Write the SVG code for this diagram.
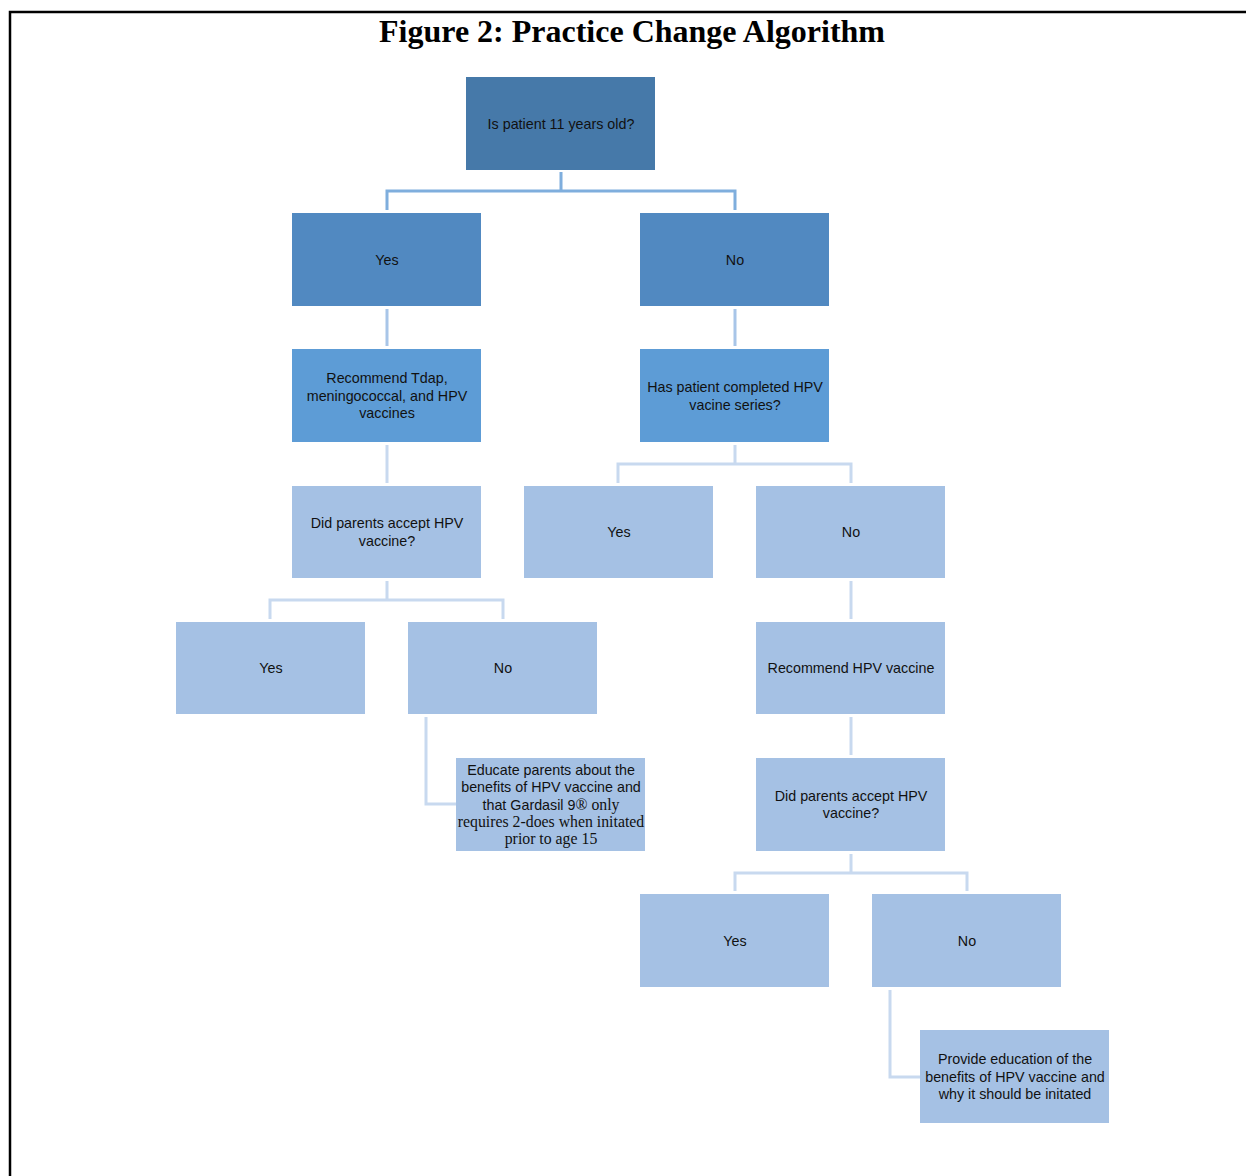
<svg xmlns="http://www.w3.org/2000/svg" width="1246" height="1176" viewBox="0 0 1246 1176">
<style>
.t{font-family:"Liberation Sans",Arial,sans-serif;font-size:14.3px;fill:#111;text-anchor:middle}
.s{font-family:"Liberation Serif","Times New Roman",serif;font-size:15.8px}
.n0{fill:#4679A9}
.n1{fill:#5189C1}
.n2{fill:#5D9CD6}
.n3{fill:#A5C1E4}
.c1{stroke:#7FAEDD;stroke-width:3;fill:none}
.c2{stroke:#A8C5E8;stroke-width:3;fill:none}
.c3{stroke:#C8D9EF;stroke-width:3;fill:none}
</style>
<rect width="1246" height="1176" fill="#fff"/>
<path d="M10,1176 V12 H1246" fill="none" stroke="#000" stroke-width="2.5"/>
<text x="632" y="42" font-family="'Liberation Serif','Times New Roman',serif" font-weight="bold" font-size="32" text-anchor="middle" fill="#000">Figure 2: Practice Change Algorithm</text>
<g id="connectors">
<path class="c1" d="M561,172 V191 M387,210 V191 H735 V210"/>
<path class="c2" d="M387,309 V346 M735,309 V346"/>
<path class="c3" d="M387,445 V483"/>
<path class="c3" d="M735,445 V464 M618,483 V464 H851 V483"/>
<path class="c3" d="M387,581 V600 M270,619 V600 H503 V619"/>
<path class="c3" d="M851,581 V619"/>
<path class="c3" d="M851,717 V755"/>
<path class="c3" d="M851,854 V873 M735,891 V873 H967 V891"/>
<path class="c3" d="M426,717 V804 H456"/>
<path class="c3" d="M890,990 V1077 H920"/>
</g>
<g id="n-root"><rect class="n0" x="466" y="77" width="189" height="93"/><text class="t" x="561" y="129">Is patient 11 years old?</text></g>
<g id="n-yes1"><rect class="n1" x="292" y="213" width="189" height="93"/><text class="t" x="387" y="265">Yes</text></g>
<g id="n-no1"><rect class="n1" x="640" y="213" width="189" height="93"/><text class="t" x="735" y="265">No</text></g>
<g id="n-recommend"><rect class="n2" x="292" y="349" width="189" height="93"/><text class="t" x="387" y="383">Recommend Tdap,</text><text class="t" x="387" y="401">meningococcal, and HPV</text><text class="t" x="387" y="418">vaccines</text></g>
<g id="n-completed"><rect class="n2" x="640" y="349" width="189" height="93"/><text class="t" x="735" y="392">Has patient completed HPV</text><text class="t" x="735" y="410">vacine series?</text></g>
<g id="n-accept1"><rect class="n3" x="292" y="486" width="189" height="92"/><text class="t" x="387" y="528">Did parents accept HPV</text><text class="t" x="387" y="546">vaccine?</text></g>
<g id="n-yes2"><rect class="n3" x="524" y="486" width="189" height="92"/><text class="t" x="619" y="537">Yes</text></g>
<g id="n-no2"><rect class="n3" x="756" y="486" width="189" height="92"/><text class="t" x="851" y="537">No</text></g>
<g id="n-yes3"><rect class="n3" x="176" y="622" width="189" height="92"/><text class="t" x="271" y="673">Yes</text></g>
<g id="n-no3"><rect class="n3" x="408" y="622" width="189" height="92"/><text class="t" x="503" y="673">No</text></g>
<g id="n-rechpv"><rect class="n3" x="756" y="622" width="189" height="92"/><text class="t" x="851" y="673">Recommend HPV vaccine</text></g>
<g id="n-educate"><rect class="n3" x="456" y="758" width="189" height="93"/>
<text class="t" x="551" y="775">Educate parents about the</text>
<text class="t" x="551" y="792">benefits of HPV vaccine and</text>
<text class="t" x="551" y="810">that Gardasil 9<tspan class="s">® only</tspan></text>
<text class="t s" x="551" y="827">requires 2-does when initated</text>
<text class="t s" x="551" y="844">prior to age 15</text></g>
<g id="n-accept2"><rect class="n3" x="756" y="758" width="189" height="93"/><text class="t" x="851" y="801">Did parents accept HPV</text><text class="t" x="851" y="818">vaccine?</text></g>
<g id="n-yes4"><rect class="n3" x="640" y="894" width="189" height="93"/><text class="t" x="735" y="946">Yes</text></g>
<g id="n-no4"><rect class="n3" x="872" y="894" width="189" height="93"/><text class="t" x="967" y="946">No</text></g>
<g id="n-provide"><rect class="n3" x="920" y="1030" width="189" height="93"/><text class="t" x="1015" y="1064">Provide education of the</text><text class="t" x="1015" y="1082">benefits of HPV vaccine and</text><text class="t" x="1015" y="1099">why it should be initated</text></g>
</svg>
